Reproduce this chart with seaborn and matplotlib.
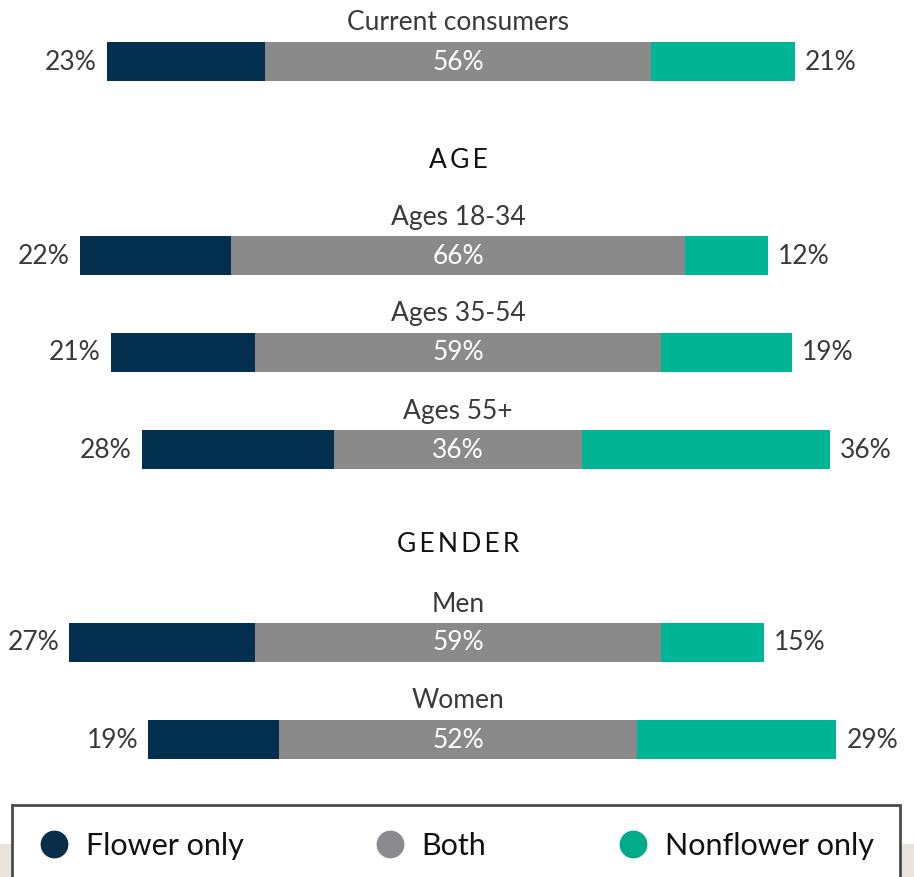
import numpy as np
import pandas as pd
import matplotlib.pyplot as plt
from matplotlib.lines import Line2D
from matplotlib.patches import Rectangle
import seaborn as sns

# data
groups = ['Current consumers', 'Ages 18-34', 'Ages 35-54', 'Ages 55+', 'Men', 'Women']
flower_only = [23, 22, 21, 28, 27, 19]
both = [56, 66, 59, 36, 59, 52]
nonflower_only = [21, 12, 19, 36, 15, 29]
sections = ['AGE', 'GENDER']

colors = {'Flower only': '#03304f', 'Both': '#8a8a8a', 'Nonflower only': '#00b594'}
legend_colors = ['#0a2d4a', '#8b8b8f', '#00ab8a']

# row layout (pixel rows of the figure)
row_y = [61, 255, 352, 449, 642, 739]
section_y = [160, 545]
bar_h = 39
px_per_pct = 6.88
center_px = 458

sns.set_style('white')
plt.rcParams['font.family'] = ['Lato', 'DejaVu Sans']

df = pd.DataFrame({'group': groups, 'y': row_y, 'flower': flower_only,
                   'both': both, 'non': nonflower_only})
df['right_non'] = df['both'] / 2 + df['non']
df['right_both'] = df['both'] / 2
df['left_flower'] = -(df['both'] / 2 + df['flower'])
df['left_both'] = -(df['both'] / 2)

fig = plt.figure(figsize=(9.14, 8.77), dpi=100)
ax = fig.add_axes([0, 0, 1, 1])

min_gap = np.min(np.diff(sorted(row_y)))
w = bar_h / min_gap
for col, c in [('right_non', colors['Nonflower only']), ('left_flower', colors['Flower only']),
               ('right_both', colors['Both']), ('left_both', colors['Both'])]:
    sns.barplot(data=df, x=col, y='y', orient='h', native_scale=True, color=c,
                width=w, saturation=1, linewidth=0, ax=ax)

ax.set_xlim(-center_px / px_per_pct, (914 - center_px) / px_per_pct)
ax.set_ylim(877, 0)
ax.axis('off')

txt = '#3a3a3a'
pad = 10 / px_per_pct
for _, r in df.iterrows():
    ax.text(r['left_flower'] - pad, r['y'] + 1, f"{r['flower']}%", ha='right', va='center',
            fontsize=19, color=txt)
    ax.text(r['right_non'] + pad, r['y'] + 1, f"{r['non']}%", ha='left', va='center',
            fontsize=19, color=txt)
    ax.text(0, r['y'] + 1, f"{r['both']}%", ha='center', va='center', fontsize=19,
            color='white')
    ax.text(0, r['y'] - 38, r['group'], ha='center', va='center', fontsize=19, color=txt)

for s, sy in zip(sections, section_y):
    ax.text(0, sy, '\u2009'.join(s), ha='center', va='center', fontsize=19,
            color='#111111')

# background texture corners and legend box
fig.patches.append(Rectangle((0, 0), 1, 1 - 844 / 877, transform=fig.transFigure,
                             facecolor='#e9e5de', edgecolor='none', zorder=0))
fig.patches.append(Rectangle((12 / 914, -0.05), 888 / 914, 0.05 + 1 - 805 / 877,
                             transform=fig.transFigure, facecolor='white',
                             edgecolor='#4a4a4a', linewidth=2, zorder=1))

handles = [Line2D([], [], marker='o', linestyle='none', markersize=19, color=c)
           for c in legend_colors]
leg = fig.legend(handles, list(colors.keys()), ncol=3, loc='center left',
                 bbox_to_anchor=(26 / 914, 1 - 846 / 877, 860 / 914, 0), mode='expand',
                 frameon=False, fontsize=22, handletextpad=0.55, borderaxespad=0,
                 handlelength=1.0)
for t in leg.get_texts():
    t.set_color('#111111')

fig.savefig('out.png', dpi=100)
